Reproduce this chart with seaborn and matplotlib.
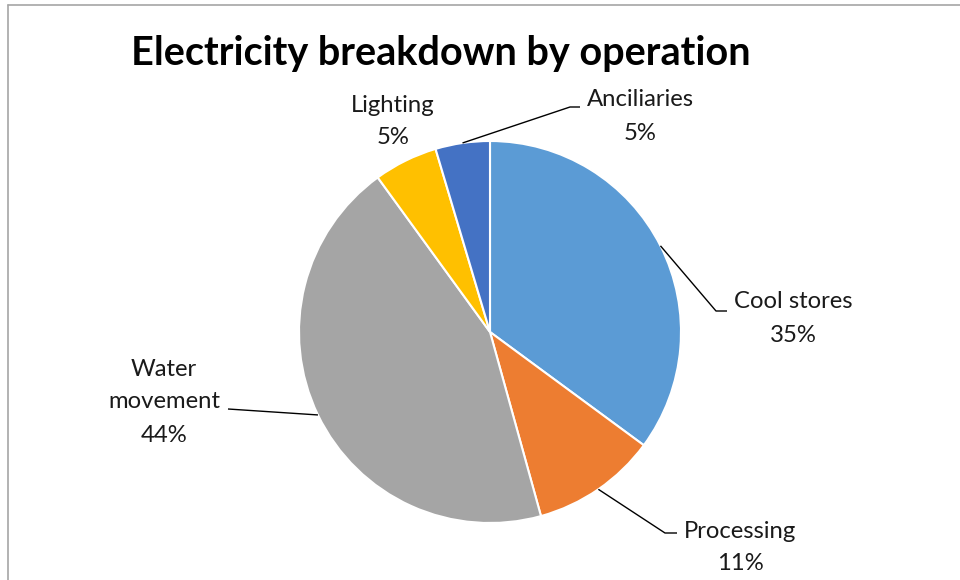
import numpy as np
import matplotlib
matplotlib.use("Agg")
import matplotlib.pyplot as plt
from matplotlib.lines import Line2D
import seaborn as sns

# ---- data ----
categories = ["Cool stores", "Processing", "Water movement", "Lighting", "Anciliaries"]
label_lines = ["Cool stores", "Processing", "Water\nmovement", "Lighting", "Anciliaries"]
values = [35.1, 10.6, 44.3, 5.4, 4.6]
colors = ["#5B9BD5", "#ED7D31", "#A5A5A5", "#FFC000", "#4472C4"]
title = "Electricity breakdown by operation"

sns.set_theme(style="white")
plt.rcParams["font.family"] = ["Lato", "DejaVu Sans"]

W, H = 960, 580
fig = plt.figure(figsize=(W / 100, H / 100), dpi=100)
ax = fig.add_axes([0, 0, 1, 1])
ax.set_xlim(0, W)
ax.set_ylim(0, H)
ax.set_aspect("equal")
ax.axis("off")

cx, cy, R = 490, H - 332, 191
wedges, _ = ax.pie(values, colors=sns.color_palette(colors), startangle=90,
                   counterclock=False, center=(cx, cy), radius=R,
                   wedgeprops=dict(edgecolor="white", linewidth=1.5),
                   frame=True)
ax.set_xlim(0, W)
ax.set_ylim(0, H)
ax.axis("off")

# label layout (pixel coords, y from top): text center x, first-line y, elbow end
layout = {
    "Cool stores": dict(tx=793, ty=302, elbow=(716, 311), end=(727, 311)),
    "Processing": dict(tx=740, ty=531, elbow=(665, 533), end=(677, 533)),
    "Water movement": dict(tx=164, ty=369, elbow=None, end=(228, 409)),
    "Lighting": dict(tx=393, ty=105, elbow=None, end=None),
    "Anciliaries": dict(tx=640, ty=100, elbow=(570, 107), end=(580, 107)),
}
line_h = 33.0
fs = 17.2

total = sum(values)
for w, cat, lab, v in zip(wedges, categories, label_lines, values):
    L = layout[cat]
    lines = lab.split("\n") + [f"{v / total * 100:.0f}%"]
    for i, t in enumerate(lines):
        ax.text(L["tx"], H - (L["ty"] + i * line_h), t, ha="center", va="center",
                fontsize=fs, color="#1a1a1a")
    if L["end"] is not None:
        mid = np.deg2rad((w.theta1 + w.theta2) / 2)
        px, py = cx + R * np.cos(mid), cy + R * np.sin(mid)
        xs, ys = [px], [py]
        if L["elbow"] is not None:
            xs.append(L["elbow"][0]); ys.append(H - L["elbow"][1])
        xs.append(L["end"][0]); ys.append(H - L["end"][1])
        ax.plot(xs, ys, color="black", lw=1.0, solid_capstyle="butt")

ax.text(441, H - 53, title, ha="center", va="center", fontsize=28.5,
        fontweight="bold", color="black")

# chart frame (top and left edges visible)
fig.add_artist(Line2D([8 / W, 1], [1 - 5 / H, 1 - 5 / H], color="#A6A6A6", lw=1.2))
fig.add_artist(Line2D([8 / W, 8 / W], [0, 1 - 5 / H], color="#A6A6A6", lw=1.2))

fig.savefig("out.png", dpi=100, facecolor="white")
